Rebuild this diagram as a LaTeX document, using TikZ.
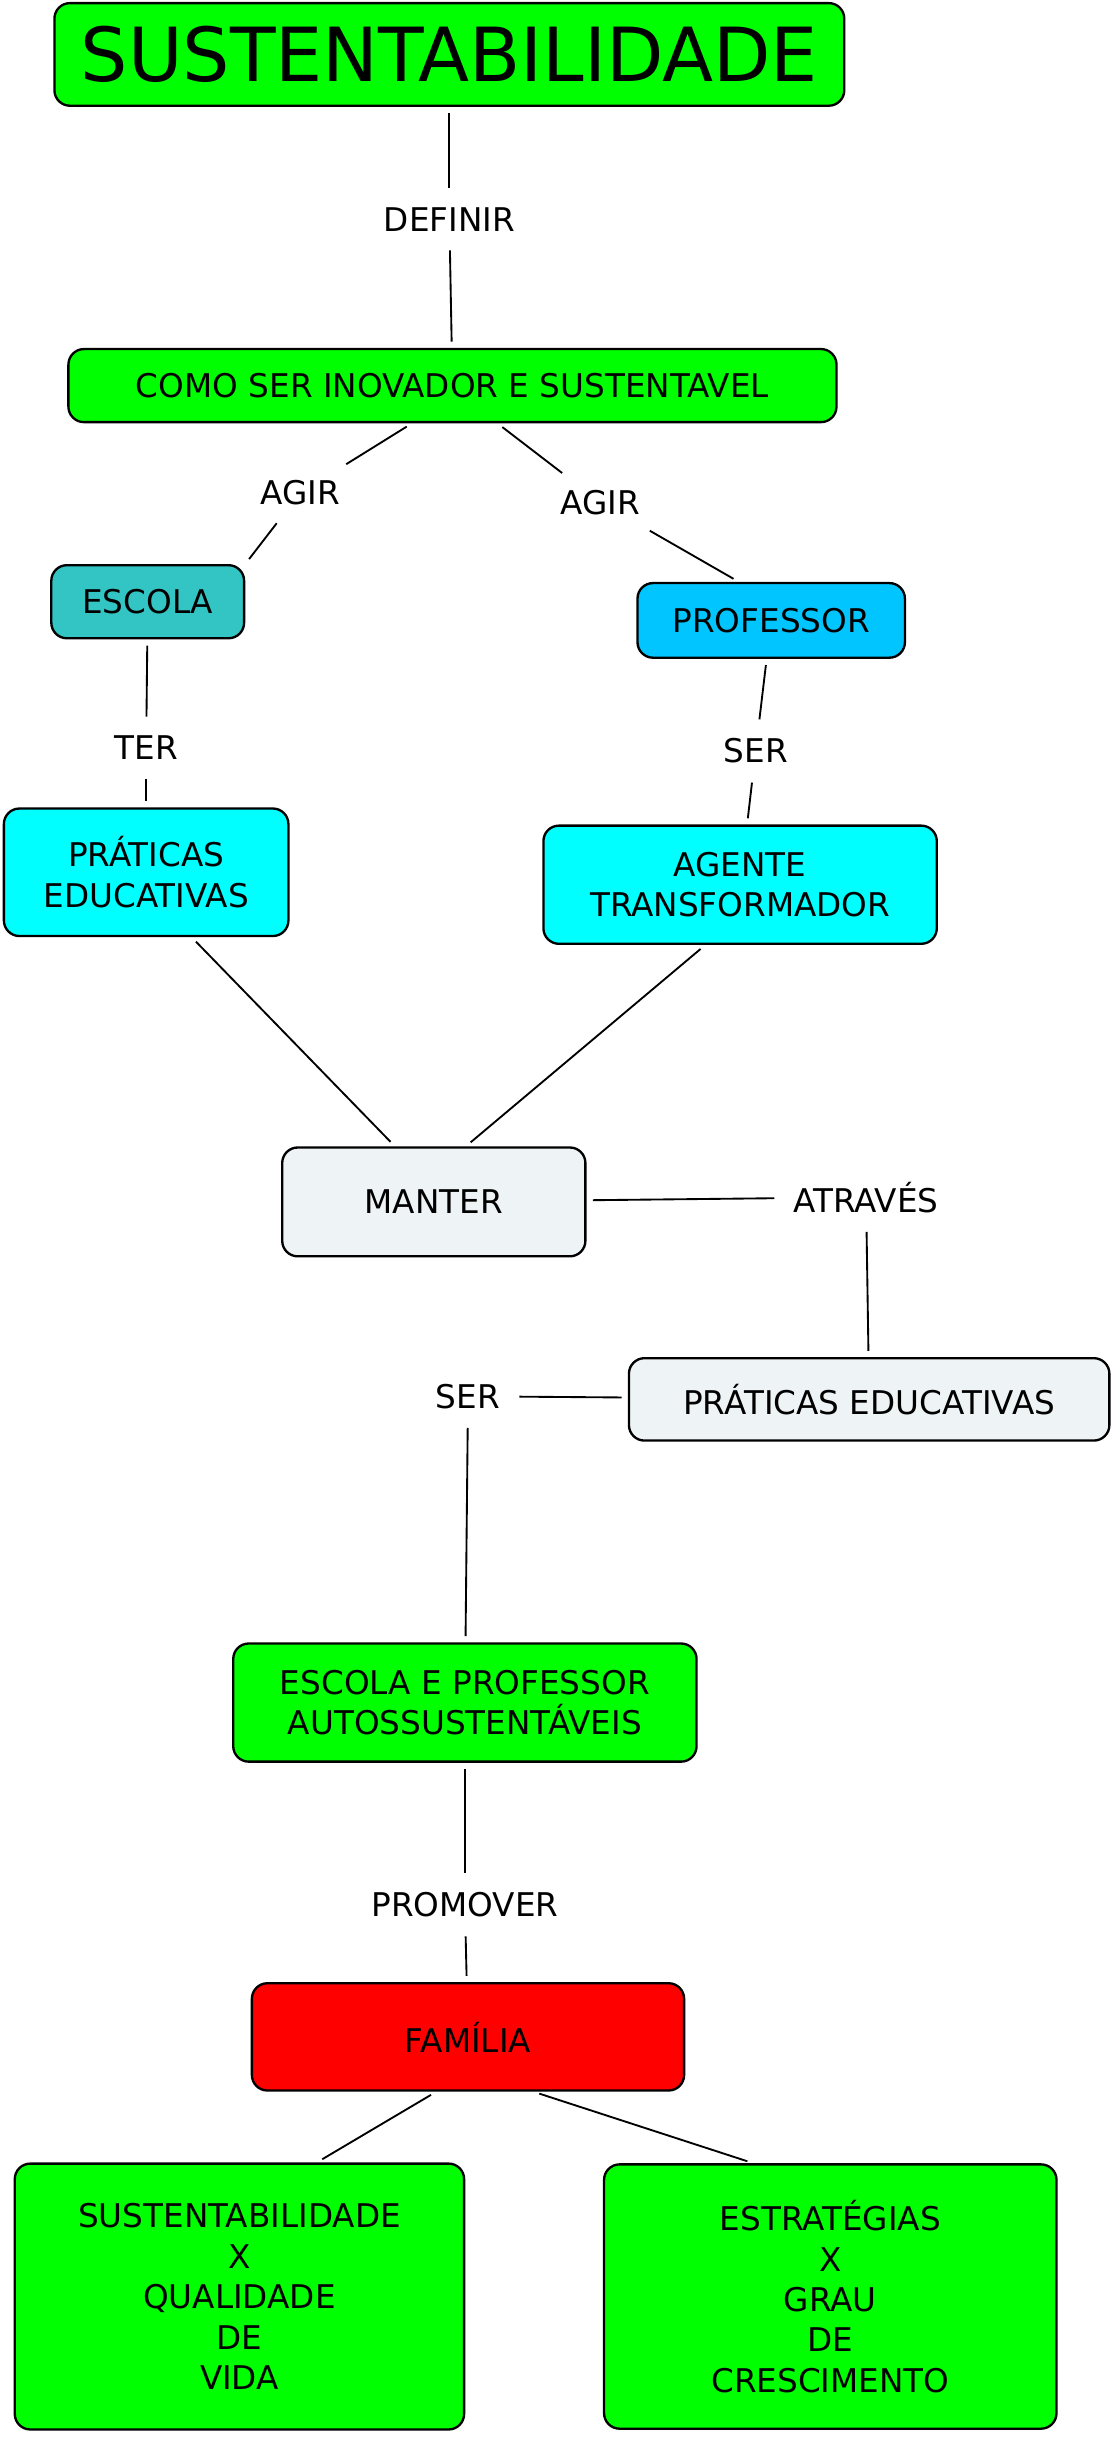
\documentclass[tikz,border=0pt]{standalone}
\usepackage{fontspec}
\setmainfont{DejaVu Sans}
\usetikzlibrary{positioning}
\definecolor{verde}{HTML}{00FF00}
\definecolor{azulesc}{HTML}{33C4C4}
\definecolor{azulprof}{HTML}{00C5FF}
\definecolor{ciano}{HTML}{00FFFF}
\definecolor{cinza}{HTML}{EEF4F6}
\definecolor{vermelho}{HTML}{FF0000}
\tikzset{
  caixa/.style={draw,line width=0.75pt,rounded corners=5pt,align=center,
    font=\fontsize{10.5}{13}\selectfont,inner sep=0pt},
  rotulo/.style={font=\fontsize{10.5}{13}\selectfont,inner sep=4pt},
  liga/.style={line width=0.6pt,shorten >=2pt,shorten <=2pt}
}
\begin{document}
\begin{tikzpicture}[x=0.5pt,y=-0.5pt]
  \useasboundingbox (0,0) rectangle (720,1568);
  % Caixas
  \node[caixa,fill=verde,minimum width=254pt,minimum height=33pt,font=\fontsize{24}{28}\selectfont] (titulo) at (289,35) {SUSTENTABILIDADE};
  \node[caixa,fill=verde,minimum width=247pt,minimum height=23.5pt] (como) at (291,248) {COMO SER INOVADOR E SUSTENTAVEL};
  \node[caixa,fill=azulesc,minimum width=62pt,minimum height=23.5pt] (escola) at (95,387) {ESCOLA};
  \node[caixa,fill=azulprof,minimum width=86pt,minimum height=24pt] (professor) at (496,399) {PROFESSOR};
  \node[caixa,fill=ciano,minimum width=91.5pt,minimum height=41pt] (praticas) at (94,561) {PRÁTICAS\\EDUCATIVAS};
  \node[caixa,fill=ciano,minimum width=126.5pt,minimum height=38pt] (agente) at (476,569) {AGENTE\\ TRANSFORMADOR};
  \node[caixa,fill=cinza,minimum width=97.5pt,minimum height=35pt] (manter) at (279,773) {MANTER};
  \node[caixa,fill=cinza,minimum width=154.5pt,minimum height=26.5pt] (praticasB) at (559,900) {\raisebox{-2pt}{PRÁTICAS EDUCATIVAS}};
  \node[caixa,fill=verde,minimum width=149pt,minimum height=38pt] (escprof) at (299,1095) {ESCOLA E PROFESSOR\\AUTOSSUSTENTÁVEIS};
  \node[caixa,fill=vermelho,minimum width=139pt,minimum height=34.5pt] (familia) at (301,1310) {\raisebox{-3pt}{FAMÍLIA}};
  \node[caixa,fill=verde,minimum width=144.5pt,minimum height=85.5pt] (sust) at (154,1477) {SUSTENTABILIDADE\\X\\QUALIDADE\\DE\\VIDA};
  \node[caixa,fill=verde,minimum width=145.5pt,minimum height=85pt] (estr) at (534,1477) {ESTRATÉGIAS\\X\\GRAU\\DE\\CRESCIMENTO};

  % Rotulos
  \node[rotulo] (definir) at (289,141) {DEFINIR};
  \node[rotulo] (agir1) at (193,317) {AGIR};
  \node[rotulo] (agir2) at (386,323) {AGIR};
  \node[rotulo] (ter) at (94,481) {TER};
  \node[rotulo] (ser1) at (486,483) {SER};
  \node[rotulo] (atraves) at (557,770) {ATRAVÉS};
  \node[rotulo] (ser2) at (301,898) {SER};
  \node[rotulo] (promover) at (299,1225) {PROMOVER};

  % Ligacoes
  \draw[liga] (titulo) -- (definir);
  \draw[liga] (definir) -- (como);
  \draw[liga] (como.-137) -- (agir1);
  \draw[liga] (agir1) -- (escola.north east);
  \draw[liga] (como.-40) -- (agir2);
  \draw[liga] (agir2) -- (professor.130);
  \draw[liga] (escola) -- (ter);
  \draw[liga] (ter) -- (praticas);
  \draw[liga] (professor) -- (ser1);
  \draw[liga] (ser1) -- (agente);
  \draw[liga] (praticas.-55) -- (manter.125);
  \draw[liga] (agente.-120) -- (manter.60);
  \draw[liga] (manter) -- (atraves);
  \draw[liga] (atraves) -- (praticasB);
  \draw[liga] (praticasB) -- (ser2);
  \draw[liga] (ser2) -- (escprof);
  \draw[liga] (escprof) -- (promover);
  \draw[liga] (promover) -- (familia);
  \draw[liga] (familia.-120) -- (sust.60);
  \draw[liga] (familia.-40) -- (estr.120);
\end{tikzpicture}
\end{document}
